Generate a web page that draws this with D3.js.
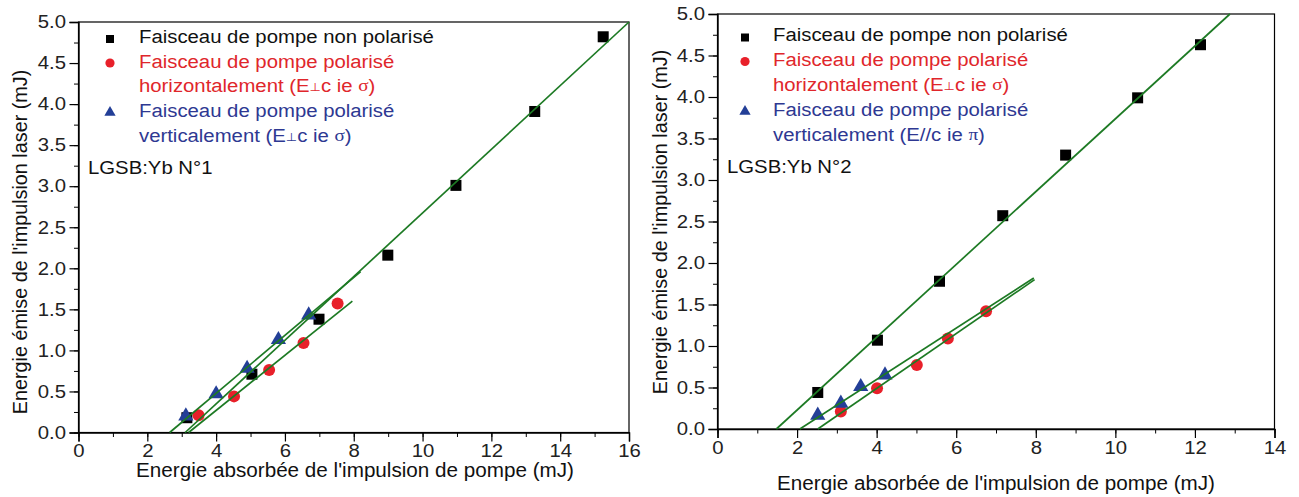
<!DOCTYPE html>
<html><head><meta charset="utf-8">
<script src="https://cdn.jsdelivr.net/npm/d3@7"></script>
<style>
html,body{margin:0;padding:0;background:#fff;}
svg{display:block;font-family:"Liberation Sans",Arial,sans-serif;}
</style></head>
<body><svg id="c" width="1299" height="497"></svg>
<script>
// ---------- data: chart 1 (LGSB:Yb N°1) ----------
const c1BlackX = [3.15, 5.04, 6.99, 8.99, 10.97, 13.26, 15.25];
const c1BlackY = [0.18, 0.71, 1.38, 2.16, 3.01, 3.91, 4.82];
const c1RedX = [3.49, 4.52, 5.54, 6.54, 7.53];
const c1RedY = [0.21, 0.44, 0.76, 1.09, 1.57];
const c1BlueX = [3.12, 4.0, 4.9, 5.81, 6.69];
const c1BlueY = [0.20, 0.47, 0.78, 1.13, 1.43];
const c1FitBlackX = [3.1, 16.0], c1FitBlackY = [0, 5.0];
const c1FitBlueX = [2.65, 8.2], c1FitBlueY = [0, 1.96];
const c1FitRedX = [3.2, 7.96], c1FitRedY = [0, 1.60];
const c1XTicks = [0, 2, 4, 6, 8, 10, 12, 14, 16];
// ---------- data: chart 2 (LGSB:Yb N°2) ----------
const c2BlackX = [2.52, 4.02, 5.58, 7.17, 8.75, 10.56, 12.14];
const c2BlackY = [0.44, 1.07, 1.78, 2.57, 3.30, 3.99, 4.63];
const c2RedX = [3.10, 4.01, 5.01, 5.79, 6.75];
const c2RedY = [0.21, 0.49, 0.77, 1.09, 1.42];
const c2BlueX = [2.52, 3.10, 3.60, 4.21];
const c2BlueY = [0.165, 0.31, 0.51, 0.65];
const c2FitBlackX = [1.48, 12.88], c2FitBlackY = [0, 5.0];
const c2FitBlueX = [2.07, 7.95], c2FitBlueY = [0, 1.82];
const c2FitRedX = [2.52, 7.97], c2FitRedY = [0, 1.80];
const c2XTicks = [0, 2, 4, 6, 8, 10, 12, 14];
const yTicks = [0, 0.5, 1, 1.5, 2, 2.5, 3, 3.5, 4, 4.5, 5];
// ---------- text ----------
const xTitle = "Energie absorbée de l'impulsion de pompe (mJ)";
const yTitle = "Energie émise de l'impulsion laser (mJ)";
const legBlack = "Faisceau de pompe non polarisé";
const legRed = ["Faisceau de pompe polarisé", "horizontalement (E", "⊥", "c ie ", "σ", ")"];
const legBlue1 = ["Faisceau de pompe polarisé", "verticalement (E", "⊥", "c ie ", "σ", ")"];
const legBlue2 = ["Faisceau de pompe polarisé", "verticalement (E", "//", "c ie ", "π", ")"];
const label1 = "LGSB:Yb N°1", label2 = "LGSB:Yb N°2";

const RED = "#e8202a", BLUE = "#233f97", GREEN = "#1d7a24";
const TXTRED = "#e0262b", TXTBLUE = "#2e3892";
const FS = 18, SX = 1.13;
const svg = d3.select("#c");

function drawChart(cfg) {
  const x = d3.scaleLinear().domain([0, cfg.xmax]).range([cfg.x0, cfg.x1]);
  const y = d3.scaleLinear().domain([0, 5]).range([cfg.y0, cfg.y1]);
  const g = svg.append("g");
  g.append("rect").attr("x", cfg.x0).attr("y", cfg.y1).attr("width", cfg.x1 - cfg.x0)
    .attr("height", cfg.y0 - cfg.y1).attr("fill", "none").attr("stroke", "#000").attr("stroke-width", 1.2);
  const xMinor = d3.range(0, cfg.xmax + 0.001, 1);
  const yMinor = d3.range(0, 5.001, 0.25);
  g.append("g").attr("transform", `translate(0,${cfg.y0})`)
    .call(d3.axisBottom(x).tickValues(xMinor).tickSize(4.5).tickFormat(""))
    .call(a => a.select(".domain").remove());
  g.append("g").attr("transform", `translate(${cfg.x0},0)`)
    .call(d3.axisLeft(y).tickValues(yMinor).tickSize(4.5).tickFormat(""))
    .call(a => a.select(".domain").remove());
  const xa = g.append("g").attr("transform", `translate(0,${cfg.y0})`)
    .call(d3.axisBottom(x).tickValues(cfg.xticks).tickSize(9).tickPadding(3).tickFormat(d3.format("d")));
  const ya = g.append("g").attr("transform", `translate(${cfg.x0},0)`)
    .call(d3.axisLeft(y).tickValues(yTicks).tickSize(9).tickPadding(2).tickFormat(d3.format(".1f")));
  [xa, ya].forEach(a => {
    a.select(".domain").attr("stroke-width", 1.4);
    a.selectAll(".tick line").attr("stroke-width", 1.2);
    a.selectAll("text").attr("font-size", FS).attr("fill", "#222")
      .attr("font-family", "Liberation Sans, Arial, sans-serif")
      .attr("transform", `scale(${SX},1)`);
  });
  g.selectAll(".tick line").attr("stroke", "#000");
  g.append("text").attr("transform", `translate(${cfg.xtx},${cfg.xty}) scale(1.06,1)`)
    .attr("text-anchor", "middle").attr("font-size", 19.5).attr("fill", "#111").text(xTitle);
  g.append("text").attr("transform", `translate(${cfg.ytx},${cfg.yty}) rotate(-90)`)
    .attr("text-anchor", "middle").attr("font-size", 19.8).attr("fill", "#111").text(yTitle);
  const pts = (xs, ys) => xs.map((v, i) => [v, ys[i]]);
  g.append("g").selectAll("rect").data(pts(cfg.bx, cfg.by)).join("rect")
    .attr("x", d => x(d[0]) - 5.5).attr("y", d => y(d[1]) - 5.5)
    .attr("width", 11).attr("height", 11).attr("fill", "#000");
  g.append("g").selectAll("circle").data(pts(cfg.rx, cfg.ry)).join("circle")
    .attr("cx", d => x(d[0])).attr("cy", d => y(d[1])).attr("r", 6).attr("fill", RED);
  g.append("g").selectAll("path").data(pts(cfg.ux, cfg.uy)).join("path")
    .attr("transform", d => `translate(${x(d[0])},${y(d[1])})`)
    .attr("d", d3.symbol(d3.symbolTriangle, 100)).attr("fill", BLUE);
  const line = d3.line().x(d => x(d[0])).y(d => y(d[1]));
  [[cfg.fbx, cfg.fby], [cfg.fux, cfg.fuy], [cfg.frx, cfg.fry]].forEach(([fx, fy]) => {
    g.append("path").attr("d", line(pts(fx, fy))).attr("fill", "none")
      .attr("stroke", GREEN).attr("stroke-width", 1.7);
  });
  const lg = g.append("g");
  const row = (yy, parts, color) => {
    const t = lg.append("text").attr("transform", `translate(${cfg.ltx},${yy}) scale(${SX},1)`)
      .attr("font-size", FS).attr("fill", color).attr("dominant-baseline", "middle");
    if (typeof parts === "string") t.text(parts);
    else {
      t.append("tspan").text(parts[0]);
      t.append("tspan").attr("font-family", parts[1] === "//" ? "Liberation Sans, sans-serif" : "DejaVu Sans, sans-serif")
        .attr("font-size", parts[1] === "//" ? FS : 11.5).text(parts[1]);
      t.append("tspan").text(parts[2]);
      t.append("tspan").attr("font-family", "Liberation Serif, serif").attr("font-size", FS - 1).text(parts[3]);
      t.append("tspan").text(parts[4]);
    }
  };
  const ly = cfg.ly;
  lg.append("rect").attr("x", cfg.lmx - 4).attr("y", ly[0] - 3).attr("width", 8).attr("height", 8).attr("fill", "#000");
  row(ly[0], legBlack, "#111");
  lg.append("circle").attr("cx", cfg.lmx).attr("cy", ly[1]).attr("r", 4.6).attr("fill", RED);
  row(ly[1], legRed[0], TXTRED);
  row(ly[2], legRed.slice(1), TXTRED);
  lg.append("path").attr("transform", `translate(${cfg.lmx},${ly[3]})`)
    .attr("d", d3.symbol(d3.symbolTriangle, 55)).attr("fill", BLUE);
  row(ly[3], cfg.blueLeg[0], TXTBLUE);
  row(ly[4], cfg.blueLeg.slice(1), TXTBLUE);
  lg.append("text").attr("transform", `translate(${cfg.lbx},${cfg.lby}) scale(${SX},1)`)
    .attr("font-size", FS).attr("fill", "#111").attr("dominant-baseline", "middle").text(cfg.label);
}

drawChart({
  xmax: 16, x0: 78.5, x1: 629, y0: 432.5, y1: 22, xticks: c1XTicks,
  xtx: 355, xty: 477, ytx: 27, yty: 242,
  bx: c1BlackX, by: c1BlackY, rx: c1RedX, ry: c1RedY, ux: c1BlueX, uy: c1BlueY,
  fbx: c1FitBlackX, fby: c1FitBlackY, fux: c1FitBlueX, fuy: c1FitBlueY, frx: c1FitRedX, fry: c1FitRedY,
  lmx: 110, ltx: 139, ly: [38, 63, 87.5, 112.5, 137], blueLeg: legBlue1,
  lbx: 88, lby: 169, label: label1
});
drawChart({
  xmax: 14, x0: 717.5, x1: 1274.5, y0: 429, y1: 14, xticks: c2XTicks,
  xtx: 996, xty: 490, ytx: 667, yty: 222,
  bx: c2BlackX, by: c2BlackY, rx: c2RedX, ry: c2RedY, ux: c2BlueX, uy: c2BlueY,
  fbx: c2FitBlackX, fby: c2FitBlackY, fux: c2FitBlueX, fuy: c2FitBlueY, frx: c2FitRedX, fry: c2FitRedY,
  lmx: 745, ltx: 773, ly: [36.5, 61.5, 86.5, 111.5, 136.5], blueLeg: legBlue2,
  lbx: 727, lby: 168, label: label2
});
</script>
</body></html>
